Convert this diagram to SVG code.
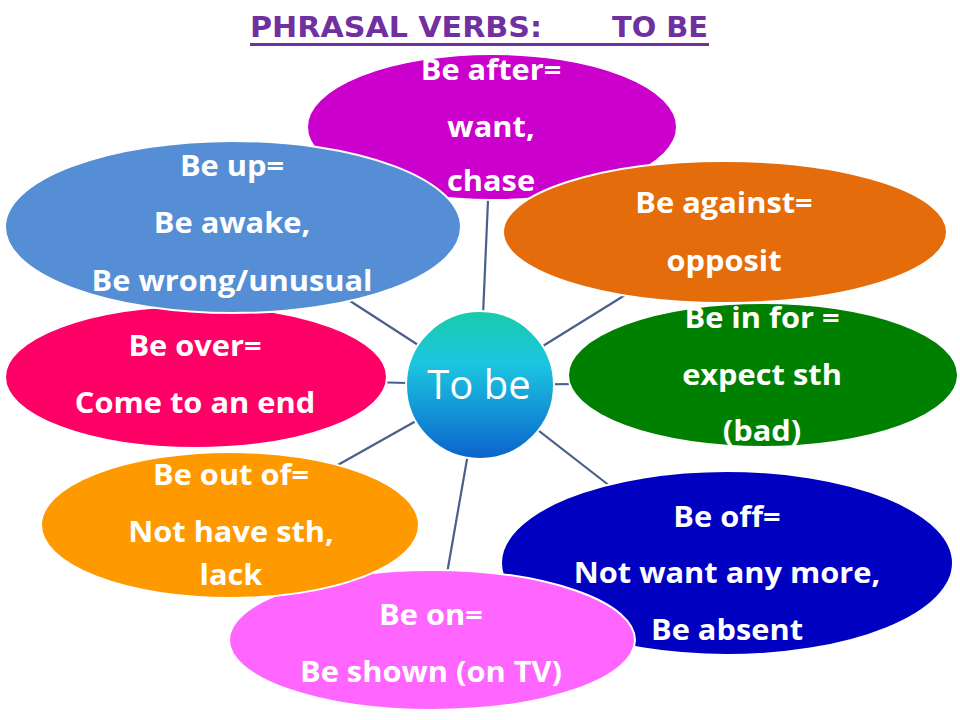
<svg xmlns="http://www.w3.org/2000/svg" width="960" height="720" viewBox="0 0 960 720">
<defs>
<linearGradient id="gc" x1="0" y1="0" x2="0" y2="1">
<stop offset="0" stop-color="#19CBA8"/>
<stop offset="0.35" stop-color="#1CC6E0"/>
<stop offset="1" stop-color="#0B63CC"/>
</linearGradient>
<style>
.el{stroke:#FFFFFF;stroke-width:2}
.t{font-family:"Open Sans","Liberation Sans",sans-serif;font-weight:700;font-size:28px;fill:#FFFFFF;text-anchor:middle}
.ttl{font-family:"DejaVu Sans","Liberation Sans",sans-serif;font-weight:700;font-size:27.5px;fill:#7030A0}
.cn line{stroke:#4A5F8A;stroke-width:2.2}
</style>
</defs>
<rect width="960" height="720" fill="#FFFFFF"/>
<g id="title">
<text class="ttl" x="250" y="37" textLength="292" lengthAdjust="spacingAndGlyphs">PHRASAL VERBS:</text>
<text class="ttl" x="612" y="37" textLength="96" lengthAdjust="spacingAndGlyphs">TO BE</text>
<line x1="250" y1="44.5" x2="709" y2="44.5" stroke="#7030A0" stroke-width="3"/>
</g>
<g id="connectors" class="cn">
<line x1="480" y1="385" x2="488" y2="200"/>
<line x1="480" y1="385" x2="330" y2="288"/>
<line x1="480" y1="385" x2="370" y2="382"/>
<line x1="480" y1="385" x2="320" y2="475"/>
<line x1="480" y1="385" x2="445" y2="585"/>
<line x1="480" y1="385" x2="615" y2="490"/>
<line x1="480" y1="385" x2="580" y2="384"/>
<line x1="480" y1="385" x2="630" y2="292"/>
</g>
<g id="be-after">
<ellipse class="el" cx="492" cy="127" rx="185" ry="73" fill="#CC00CC"/>
<g transform="translate(491 0) scale(1.1 1)" class="t">
<text x="0" y="80">Be after=</text>
<text x="0" y="137">want,</text>
<text x="0" y="191">chase</text>
</g>
</g>
<g id="be-in-for">
<ellipse class="el" cx="763" cy="375" rx="195" ry="72" fill="#008000"/>
<g transform="translate(762 0) scale(1.1 1)" class="t">
<text x="0" y="328">Be in for =</text>
<text x="0" y="385">expect sth</text>
<text x="0" y="441">(bad)</text>
</g>
</g>
<g id="be-against">
<ellipse class="el" cx="725" cy="232" rx="222" ry="71" fill="#E46C0A"/>
<g transform="translate(724 0) scale(1.1 1)" class="t">
<text x="0" y="213">Be against=</text>
<text x="0" y="271">opposit</text>
</g>
</g>
<g id="be-off">
<ellipse class="el" cx="727" cy="563" rx="226" ry="92" fill="#0000C0"/>
<g transform="translate(727 0) scale(1.1 1)" class="t">
<text x="0" y="527">Be off=</text>
<text x="0" y="583">Not want any more,</text>
<text x="0" y="640">Be absent</text>
</g>
</g>
<g id="be-on">
<ellipse class="el" cx="432" cy="640" rx="203" ry="70" fill="#FF66FF"/>
<g transform="translate(431 0) scale(1.1 1)" class="t">
<text x="0" y="625">Be on=</text>
<text x="0" y="682">Be shown (on TV)</text>
</g>
</g>
<g id="be-out-of">
<ellipse class="el" cx="230" cy="525" rx="189" ry="73" fill="#FF9900"/>
<g transform="translate(231 0) scale(1.1 1)" class="t">
<text x="0" y="485">Be out of=</text>
<text x="0" y="542">Not have sth,</text>
<text x="0" y="585">lack</text>
</g>
</g>
<g id="be-over">
<ellipse class="el" cx="196" cy="377" rx="191" ry="71" fill="#FF0066"/>
<g transform="translate(195 0) scale(1.1 1)" class="t">
<text x="0" y="356">Be over=</text>
<text x="0" y="413">Come to an end</text>
</g>
</g>
<g id="be-up">
<ellipse class="el" cx="233" cy="227" rx="228" ry="86" fill="#558ED5"/>
<g transform="translate(232 0) scale(1.1 1)" class="t">
<text x="0" y="176">Be up=</text>
<text x="0" y="233">Be awake,</text>
<text x="0" y="291">Be wrong/unusual</text>
</g>
</g>
<g id="to-be">
<circle cx="480" cy="385" r="74" fill="url(#gc)" stroke="#FFFFFF" stroke-width="2"/>
<text x="479" y="399" font-family="'Open Sans','Liberation Sans',sans-serif" font-size="40" fill="#FFFFFF" text-anchor="middle">To be</text>
</g>
</svg>
